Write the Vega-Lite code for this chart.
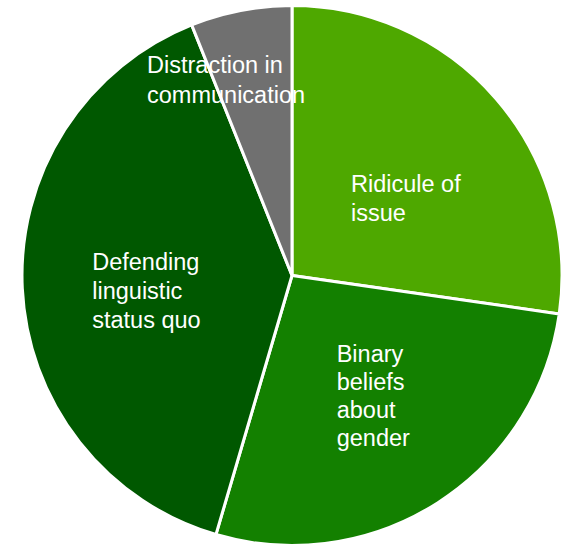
{
  "$schema": "https://vega.github.io/schema/vega-lite/v6.json",
  "width": 546,
  "height": 543,
  "autosize": "none",
  "padding": {"left": 19, "top": 4, "right": 0, "bottom": 0},
  "background": "white",
  "config": {"view": {"stroke": null}},
  "data": {
    "values": [
      {"category": "Ridicule of issue", "label": "Ridicule of\nissue", "count": 9},
      {"category": "Binary beliefs about gender", "label": "Binary\nbeliefs\nabout\ngender", "count": 9},
      {"category": "Defending linguistic status quo", "label": "Defending\nlinguistic\nstatus quo", "count": 13},
      {"category": "Distraction in communication", "label": "Distraction in\ncommunication", "count": 2}
    ]
  },
  "encoding": {
    "theta": {"field": "count", "type": "quantitative", "stack": true, "scale": {"range": [1.7136, 7.9968]}},
    "color": {
      "field": "category",
      "type": "nominal",
      "legend": null,
      "scale": {
        "domain": ["Binary beliefs about gender", "Defending linguistic status quo", "Distraction in communication", "Ridicule of issue"],
        "range": ["#138000", "#005800", "#707070", "#4ea800"]
      }
    },
    "order": {"field": "category", "sort": "ascending"}
  },
  "layer": [
    {"mark": {"type": "arc", "outerRadius": 270, "stroke": "white", "strokeWidth": 3}},
    {
      "mark": {"type": "text", "radius": 127, "dx": -37, "align": "left", "baseline": "alphabetic", "lineBreak": "\n", "lineHeight": 29, "fontSize": 23.5, "font": "Liberation Sans", "fill": "white"},
      "encoding": {"text": {"condition": {"test": "datum.category === 'Ridicule of issue'", "field": "label"}, "value": ""}, "color": {"value": "white"}}
    },
    {
      "mark": {"type": "text", "radius": 103, "dx": -11, "align": "left", "baseline": "alphabetic", "lineBreak": "\n", "lineHeight": 28, "fontSize": 23.5, "font": "Liberation Sans", "fill": "white"},
      "encoding": {"text": {"condition": {"test": "datum.category === 'Binary beliefs about gender'", "field": "label"}, "value": ""}, "color": {"value": "white"}}
    },
    {
      "mark": {"type": "text", "radius": 200, "dy": -15, "align": "left", "baseline": "alphabetic", "lineBreak": "\n", "lineHeight": 29, "fontSize": 23.5, "font": "Liberation Sans", "fill": "white"},
      "encoding": {"text": {"condition": {"test": "datum.category === 'Defending linguistic status quo'", "field": "label"}, "value": ""}, "color": {"value": "white"}}
    },
    {
      "mark": {"type": "text", "radius": 206, "dx": -106, "align": "left", "baseline": "alphabetic", "lineBreak": "\n", "lineHeight": 30, "fontSize": 23.5, "font": "Liberation Sans", "fill": "white"},
      "encoding": {"text": {"condition": {"test": "datum.category === 'Distraction in communication'", "field": "label"}, "value": ""}, "color": {"value": "white"}}
    }
  ]
}
